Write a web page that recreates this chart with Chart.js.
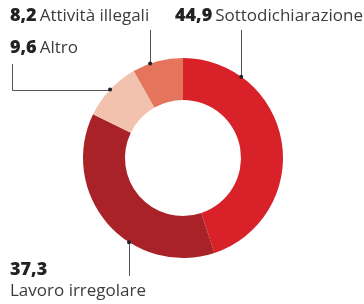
<!DOCTYPE html>
<html>
<head>
<meta charset="utf-8">
<script src="https://cdn.jsdelivr.net/npm/chart.js"></script>
<style>
  html, body { margin: 0; padding: 0; background: #fff; }
  #wrap { width: 364px; height: 304px; position: relative; }
</style>
</head>
<body>
<div id="wrap"><canvas id="torta" width="364" height="304"></canvas></div>
<script>
// quote in percentuale
const categorie = ['Sottodichiarazione', 'Lavoro irregolare', 'Altro', 'Attività illegali'];
const valori = [44.9, 37.3, 9.6, 8.2];
const etichette = ['44,9', '37,3', '9,6', '8,2'];
const colori = ['#d82128', '#a92227', '#f3c2af', '#e5745d'];

// dove cade il puntino sul bordo della fetta (frazione dell'arco) e dove va il testo
const richiami = [
  { frac: 0.22, testo: [175, 21], riga: 'lungo', fine: 30 },
  { frac: 0.38, testo: [10, 275], riga: 'due', fine: 276 },
  { frac: 0.5, testo: [10, 53], riga: 'gomito', fine: 64 },
  { frac: 0.35, testo: [10, 21], riga: 'lungo', fine: 30 }
];

const fontNum = '800 18px "Open Sans", sans-serif';
const fontLab = '17px "Open Sans", sans-serif';

const pluginRichiami = {
  id: 'richiami',
  afterDatasetsDraw(chart) {
    const ctx = chart.ctx;
    const archi = chart.getDatasetMeta(0).data;
    ctx.save();
    archi.forEach((arco, i) => {
      const r = richiami[i];
      const a = arco.startAngle + (arco.endAngle - arco.startAngle) * r.frac;
      const px = arco.x + Math.cos(a) * arco.outerRadius;
      const py = arco.y + Math.sin(a) * arco.outerRadius;
      ctx.strokeStyle = '#555';
      ctx.lineWidth = 1;
      ctx.beginPath();
      if (r.riga === 'gomito') {
        ctx.moveTo(Math.round(px), Math.round(py) + 0.5);
        ctx.lineTo(12.5, Math.round(py) + 0.5);
        ctx.lineTo(12.5, r.fine);
      } else {
        ctx.moveTo(Math.round(px) + 0.5, py);
        ctx.lineTo(Math.round(px) + 0.5, r.fine);
      }
      ctx.stroke();
      ctx.fillStyle = '#222';
      ctx.beginPath();
      ctx.arc(px, py, 2, 0, Math.PI * 2);
      ctx.fill();

      // testo
      const [tx, ty] = r.testo;
      ctx.textBaseline = 'alphabetic';
      ctx.textAlign = 'left';
      ctx.font = fontNum;
      ctx.fillStyle = '#222';
      ctx.fillText(etichette[i], tx, ty);
      const wn = ctx.measureText(etichette[i]).width;
      ctx.font = fontLab;
      ctx.fillStyle = '#3c3c3c';
      if (r.riga === 'due') {
        ctx.fillText(categorie[i], tx, ty + 21);
      } else {
        ctx.fillText(categorie[i], tx + wn + 3, ty);
      }
    });
    ctx.restore();
  }
};

new Chart(document.getElementById('torta'), {
  type: 'doughnut',
  data: {
    labels: categorie,
    datasets: [{
      data: valori,
      backgroundColor: colori,
      borderWidth: 0
    }]
  },
  options: {
    responsive: false,
    animation: false,
    cutout: '58%',
    layout: { padding: { top: 58, bottom: 46, left: 83, right: 81 } },
    plugins: { legend: { display: false }, tooltip: { enabled: false } }
  },
  plugins: [pluginRichiami]
});
</script>
</body>
</html>
